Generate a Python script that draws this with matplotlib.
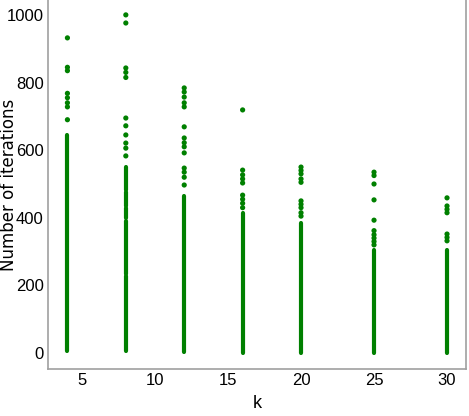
import matplotlib
matplotlib.use("Agg")
import matplotlib.pyplot as plt

# k values and the iteration counts
k_values = [4, 8, 12, 16, 20, 25, 30]

# solid (dense) runs of points per k: (low, high)
dense_runs = {
    4: [(5, 645)],
    8: [(5, 228), (235, 390), (398, 430), (436, 475), (481, 550)],
    12: [(3, 465)],
    16: [(0, 415)],
    20: [(0, 385)],
    25: [(0, 305)],
    30: [(0, 305)],
}

# isolated points per k
sparse_points = {
    4: [932, 845, 835, 768, 755, 740, 728, 690],
    8: [1000, 976, 843, 830, 815, 695, 672, 645, 621, 606, 583],
    12: [784, 772, 757, 740, 728, 669, 636, 622, 610, 592, 547, 535, 520, 497],
    16: [719, 541, 527, 515, 503, 467, 455, 443, 430],
    20: [550, 540, 530, 515, 505, 450, 440, 430, 415, 405],
    25: [535, 525, 500, 453, 393, 362, 350, 340, 330, 320],
    30: [459, 435, 425, 415, 352, 342, 332],
}

x_ticks = [5, 10, 15, 20, 25, 30]
y_ticks = [0, 200, 400, 600, 800, 1000]

green = "#008000"

fig = plt.figure(figsize=(4.69, 4.16), dpi=100)
ax = fig.add_axes([48 / 469, 47 / 416, 418 / 469, 369 / 416])

for k in k_values:
    for lo, hi in dense_runs[k]:
        lc = ax.vlines(k, lo, hi, colors=green, linewidth=3.0)
        lc.set_capstyle("round")
    pts = sparse_points[k]
    ax.scatter([k] * len(pts), pts, s=14, color=green, edgecolors="none")

ax.set_xlim(2.67, 31.3)
ax.set_ylim(-47, 1044)
ax.set_xticks(x_ticks)
ax.set_yticks(y_ticks)
ax.tick_params(length=0, pad=3)
for lab in ax.get_xticklabels() + ax.get_yticklabels():
    lab.set_fontfamily("Liberation Sans")
    lab.set_fontsize(12)

for side in ["left", "bottom", "right"]:
    ax.spines[side].set_color("#a0a0a0")
    ax.spines[side].set_linewidth(1.2)
ax.spines["top"].set_visible(False)

ax.set_xlabel("k", fontfamily="Liberation Sans", fontsize=13, labelpad=5)
ax.set_ylabel("Number of iterations", fontfamily="DejaVu Sans", fontsize=12)
ax.yaxis.set_label_coords(-0.072, 0.5)

fig.savefig("out.png", dpi=100)
